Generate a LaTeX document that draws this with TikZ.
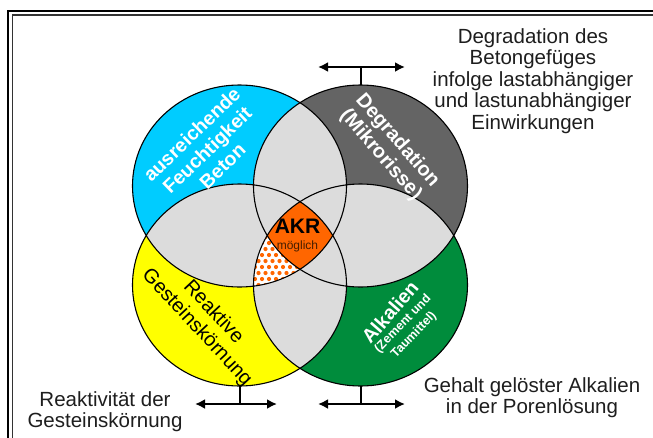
\documentclass[tikz,border=0pt]{standalone}
\usepackage{fontspec}
\setmainfont{Liberation Sans}
\usetikzlibrary{arrows.meta}
\definecolor{cblue}{RGB}{0,204,255}
\definecolor{cgray}{RGB}{100,100,100}
\definecolor{cyel}{RGB}{255,255,0}
\definecolor{cgreen}{RGB}{0,140,60}
\definecolor{clight}{RGB}{220,220,220}
\definecolor{corange}{RGB}{255,102,0}
\definecolor{ctext}{RGB}{30,30,30}
\definecolor{cbrown}{RGB}{70,30,0}
\newcommand\ellB{(239.5,186) ellipse [x radius=107, y radius=101]}
\newcommand\ellR{(360.5,186) ellipse [x radius=107, y radius=101]}
\newcommand\ellY{(239.5,285) ellipse [x radius=107, y radius=101]}
\newcommand\ellN{(360.5,285) ellipse [x radius=107, y radius=101]}
\tikzset{
  outline/.style={draw=black, line width=1.1pt},
  arr/.style={line width=2pt, {Latex[length=10pt,width=10pt]}-{Latex[length=10pt,width=10pt]}},
  stemline/.style={line width=2pt},
  sidetext/.style={inner sep=0pt, align=center, text=ctext, font=\fontsize{20.5}{21.5}\selectfont},
  circlab/.style={inner sep=0pt, align=center, text=white, font=\fontsize{19.5}{22}\selectfont\bfseries},
  smalllab/.style={inner sep=0pt, align=center, text=white, font=\fontsize{12.5}{14}\selectfont\bfseries}
}
\begin{document}
\begin{tikzpicture}[x=1pt,y=-1pt]
\useasboundingbox (0,0) rectangle (653,437);
\fill[white] (0,0) rectangle (653,437);
% frame
\draw[line width=2.2pt] (8,460) -- (8,11) -- (680,11);
\draw[line width=1.5pt, black!80] (12.3,460) -- (12.3,15.2) -- (680,15.2);
% circle fills
\fill[cblue] \ellB;
\fill[cgray] \ellR;
\fill[cyel] \ellY;
\fill[cgreen] \ellN;
% pairwise overlaps
\begin{scope}\clip \ellB; \fill[clight] \ellR; \fill[clight] \ellY; \fill[clight] \ellN; \end{scope}
\begin{scope}\clip \ellR; \fill[clight] \ellY; \fill[clight] \ellN; \end{scope}
\begin{scope}\clip \ellY; \fill[clight] \ellN; \end{scope}
% four-way overlap
\begin{scope}\clip \ellB; \clip \ellR; \clip \ellY; \fill[corange] \ellN; \end{scope}
% dotted region: blue, yellow, green, not gray
\begin{scope}[even odd rule]
  \clip \ellB; \clip \ellY; \clip \ellN;
  \clip (-10,-10) rectangle (700,500) \ellR;
  \fill[white] (200,190) rectangle (340,300);
  \foreach \i in {0,...,11} {
    \foreach \j in {0,...,10} {
      \fill[corange] ({241+7*\j+3.5*mod(\i,2)},{231+6*\i}) circle[radius=2.1];
    }
  }
\end{scope}
% outlines
\draw[outline] \ellB;
\draw[outline] \ellR;
\draw[outline] \ellY;
\draw[outline] \ellN;
% connectors
\coordinate (topL) at (318,67);
\coordinate (topR) at (405,67);
\coordinate (topM) at (360.5,67);
\coordinate (grayTop) at (360.5,85);
\coordinate (blL) at (195,404);
\coordinate (blR) at (277,404);
\coordinate (blM) at (239.5,404);
\coordinate (yelBot) at (239.5,386);
\coordinate (brL) at (318,404);
\coordinate (brR) at (405,404);
\coordinate (brM) at (360.5,404);
\coordinate (greenBot) at (360.5,386);
\draw[arr] (topL) -- (topR);
\draw[stemline] (topM) -- (grayTop);
\draw[arr] (blL) -- (blR);
\draw[stemline] (blM) -- (yelBot);
\draw[arr] (brL) -- (brR);
\draw[stemline] (brM) -- (greenBot);
% side texts
\node[sidetext, anchor=north] (degtext) at (533,28) {Degradation des\\Betongefüges\\infolge lastabhängiger\\und lastunabhängiger\\Einwirkungen};
\node[sidetext, anchor=north] (reaktext) at (105,391) {Reaktivität der\\Gesteinskörnung};
\node[sidetext, anchor=north] (alktext) at (532,377) {Gehalt gelöster Alkalien\\in der Porenlösung};
% circle labels
\node[circlab, rotate=44] (bluelab) at (207,150) {ausreichende\\Feuchtigkeit\\Beton};
\node[circlab, rotate=-49, font=\fontsize{20}{22}\selectfont\bfseries] (graylab) at (389,148) {Degradation\\(Mikrorisse)};
\node[circlab, rotate=-47, text=black, font=\fontsize{20}{22.5}\selectfont] (yellab) at (205,320) {Reaktive\\Gesteinskörnung};
\node[circlab, rotate=49] (greenlab) at (390,312) {Alkalien};
\node[smalllab, rotate=46] (greenlab2) at (403,324) {(Zement und};
\node[smalllab, rotate=46] (greenlab3) at (414,335) {Taumittel)};
% center
\node[inner sep=0pt, font=\fontsize{21}{22}\selectfont\bfseries, text=black] (akr) at (297.5,226.5) {AKR};
\node[inner sep=0pt, font=\fontsize{12}{14}\selectfont, text=cbrown] (moegl) at (297.5,246) {möglich};
\end{tikzpicture}
\end{document}
